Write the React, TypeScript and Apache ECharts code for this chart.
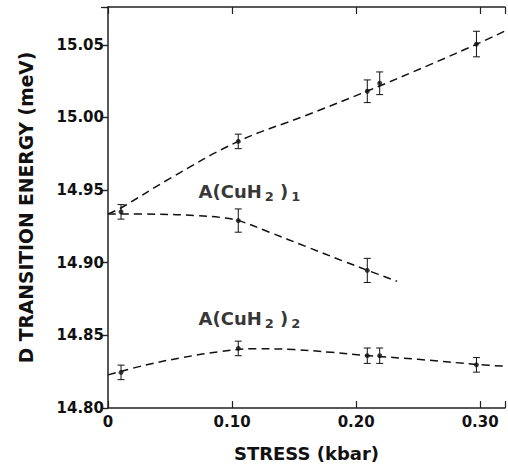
import React, { useEffect, useRef } from "react";
import * as echarts from "echarts";

// Measured points (stress in kbar, transition energy in meV, error half-width)
const stressAll = [0.0105, 0.105, 0.209, 0.219, 0.297];
const energyUpper = [14.935, 14.9835, 15.018, 15.0235, 15.0505];
const errUpper = [0.005, 0.005, 0.0078, 0.0078, 0.0088];

const stressMid = [0.105, 0.209];
const energyMid = [14.929, 14.8947];
const errMid = [0.008, 0.0083];

const energyLower = [14.8245, 14.841, 14.836, 14.836, 14.8297];
const errLower = [0.005, 0.005, 0.0053, 0.0053, 0.005];

// Dashed guide curves
const fitUpperX = [0, 0.01, 0.05, 0.105, 0.16, 0.21, 0.26, 0.3, 0.32];
const fitUpperY = [14.9336, 14.9375, 14.958, 14.9835, 15.0015, 15.0185, 15.0365, 15.0515, 15.0595];

const fitMidX = [0, 0.04, 0.07, 0.09, 0.105, 0.13, 0.16, 0.19, 0.21, 0.233];
const fitMidY = [14.9336, 14.9334, 14.9325, 14.9312, 14.929, 14.921, 14.911, 14.901, 14.8945, 14.8872];

const fitLowerX = [0, 0.03, 0.06, 0.09, 0.12, 0.15, 0.18, 0.21, 0.25, 0.3, 0.32];
const fitLowerY = [14.8228, 14.8295, 14.8347, 14.8388, 14.8408, 14.8402, 14.8383, 14.836, 14.8335, 14.8298, 14.8288];

// Curve labels
const labelX = [0.073, 0.073];
const labelY = [14.949, 14.8616];
const labelSub = ["1", "2"];

const xTicks = [0, 0.1, 0.2, 0.3];
const yTicks = [14.8, 14.85, 14.9, 14.95, 15.0, 15.05];

const FONT = "DejaVu Sans";
const INK = "#111";

const zip = (xs: number[], ys: number[]) => xs.map((x, i) => [x, ys[i]]);

const errorSeries = (xs: number[], ys: number[], es: number[]) => ({
  type: "custom",
  silent: true,
  z: 5,
  data: xs.map((x, i) => [x, ys[i], es[i]]),
  encode: { x: 0, y: 1 },
  renderItem: (_p: any, api: any) => {
    const x = api.value(0);
    const y = api.value(1);
    const e = api.value(2);
    const t = api.coord([x, y + e]);
    const b = api.coord([x, y - e]);
    const hw = 3.5;
    const st = { stroke: INK, lineWidth: 1 };
    return {
      type: "group",
      children: [
        { type: "line", shape: { x1: t[0], y1: t[1], x2: b[0], y2: b[1] }, style: st },
        { type: "line", shape: { x1: t[0] - hw, y1: t[1], x2: t[0] + hw, y2: t[1] }, style: st },
        { type: "line", shape: { x1: b[0] - hw, y1: b[1], x2: b[0] + hw, y2: b[1] }, style: st },
      ],
    };
  },
});

const fitSeries = (xs: number[], ys: number[]) => ({
  type: "line",
  data: zip(xs, ys),
  smooth: 0.4,
  symbol: "none",
  silent: true,
  lineStyle: { color: INK, width: 1.5, type: [8, 5] },
  z: 3,
});

const pointSeries = (xs: number[], ys: number[]) => ({
  type: "scatter",
  data: zip(xs, ys),
  symbol: "circle",
  symbolSize: 5,
  itemStyle: { color: INK },
  z: 6,
});

export default function App() {
  const ref = useRef<HTMLDivElement>(null);

  useEffect(() => {
    if (!ref.current) return;
    const chart = echarts.init(ref.current, undefined, { renderer: "svg" });
    const axisLine = { show: true, lineStyle: { color: "#222", width: 1.5 } };
    const tickStyle = { color: "#222", width: 1.2 };
    chart.setOption({
      animation: false,
      backgroundColor: "#fff",
      grid: { left: 108, top: 7, width: 403, bottom: 57, containLabel: false },
      xAxis: [
        {
          type: "value",
          min: 0,
          max: 0.32,
          interval: 0.1,
          position: "bottom",
          name: "STRESS (kbar)",
          nameLocation: "middle",
          nameGap: 36,
          nameTextStyle: {
            fontFamily: FONT,
            fontWeight: "bold",
            fontSize: 18,
            color: INK,
            verticalAlign: "top",
          },
          axisLine,
          axisTick: { show: true, inside: true, length: 7, lineStyle: tickStyle },
          axisLabel: {
            margin: 6,
            fontFamily: FONT,
            fontWeight: "bold",
            fontSize: 15,
            color: INK,
            formatter: (v: number) =>
              xTicks.some((t) => Math.abs(t - v) < 1e-6) ? (v === 0 ? "0" : v.toFixed(2)) : "",
          },
          splitLine: { show: false },
        },
        {
          type: "value",
          min: 0,
          max: 0.32,
          interval: 0.1,
          position: "top",
          axisLine,
          axisTick: { show: true, inside: true, length: 7, lineStyle: tickStyle },
          axisLabel: { show: false },
          splitLine: { show: false },
        },
      ],
      yAxis: [
        {
          type: "value",
          min: 14.8,
          max: 15.076,
          interval: 0.05,
          position: "left",
          name: "D TRANSITION ENERGY (meV)",
          nameLocation: "middle",
          nameRotate: 90,
          nameGap: 72,
          nameTextStyle: {
            fontFamily: FONT,
            fontWeight: "bold",
            fontSize: 18.7,
            color: INK,
          },
          axisLine,
          axisTick: { show: true, inside: false, length: 5, lineStyle: tickStyle },
          axisLabel: {
            margin: 4,
            fontFamily: FONT,
            fontWeight: "bold",
            fontSize: 15,
            color: INK,
            formatter: (v: number) =>
              yTicks.some((t) => Math.abs(t - v) < 1e-6) ? v.toFixed(2) : "",
          },
          splitLine: { show: false },
        },
        {
          type: "value",
          min: 14.8,
          max: 15.076,
          interval: 0.05,
          position: "right",
          axisLine: { show: false },
          axisTick: { show: true, inside: true, length: 7, lineStyle: tickStyle },
          axisLabel: { show: false },
          splitLine: { show: false },
        },
      ],
      series: [
        fitSeries(fitUpperX, fitUpperY),
        fitSeries(fitMidX, fitMidY),
        fitSeries(fitLowerX, fitLowerY),
        errorSeries(stressAll, energyUpper, errUpper),
        errorSeries(stressMid, energyMid, errMid),
        errorSeries(stressAll, energyLower, errLower),
        pointSeries(stressAll, energyUpper),
        pointSeries(stressMid, energyMid),
        pointSeries(stressAll, energyLower),
        {
          type: "scatter",
          silent: true,
          symbolSize: 0,
          itemStyle: { color: "#000" },
          data: labelX.map((x, i) => ({
            value: [x, labelY[i]],
            label: {
              show: true,
              position: "right",
              distance: 0,
              formatter: `{main|A(CuH}{sub|2}{main| )}{sub|${labelSub[i]}}`,
              color: "#000",
              rich: {
                main: { fontFamily: FONT, fontWeight: "bold", fontSize: 18, color: "#000", lineHeight: 22 },
                sub: {
                  fontFamily: FONT,
                  fontWeight: "bold",
                  fontSize: 13,
                  color: "#000",
                  lineHeight: 12,
                  verticalAlign: "bottom",
                  padding: [0, 0, 0, 3],
                },
              },
            },
          })),
          z: 7,
        },
      ],
    });
    return () => chart.dispose();
  }, []);

  return (
    <div
      ref={ref}
      style={{ position: "fixed", left: 0, top: 0, width: 508, height: 467, background: "#fff" }}
    />
  );
}
